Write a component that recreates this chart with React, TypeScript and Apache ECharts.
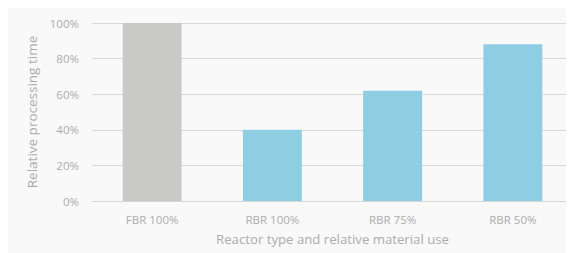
import React, { useEffect, useRef } from "react";
import * as echarts from "echarts";

const categories = ["FBR 100%", "RBR 100%", "RBR 75%", "RBR 50%"];
const values = [100, 40, 62, 88];
const barColors = ["#c9c9c5", "#8dcee3"];
const yTicks = [0, 20, 40, 60, 80, 100];

export default function App() {
  const ref = useRef<HTMLDivElement>(null);
  useEffect(() => {
    document.body.style.overflow = "hidden";
    const chart = echarts.init(ref.current!, null, { renderer: "svg" });
    const font = "'Open Sans', 'DejaVu Sans', sans-serif";
    chart.setOption({
      animation: false,
      backgroundColor: "#f9f9f9",
      textStyle: { fontFamily: font },
      grid: { left: 84, right: 1, top: 15, bottom: 52, containLabel: false },
      xAxis: {
        type: "category",
        data: categories,
        name: "Reactor type and relative material use",
        nameLocation: "middle",
        nameGap: 31,
        nameTextStyle: { color: "#acacac", fontSize: 13.2, fontFamily: font },
        axisLine: { lineStyle: { color: "#d6d6d6", width: 1 } },
        axisTick: { show: false },
        axisLabel: { color: "#acacac", fontSize: 11.5, margin: 12, fontFamily: font },
      },
      yAxis: {
        type: "value",
        min: yTicks[0],
        max: yTicks[yTicks.length - 1],
        interval: 20,
        name: "Relative processing time",
        nameLocation: "middle",
        nameGap: 49,
        nameTextStyle: { color: "#acacac", fontSize: 13.5, fontFamily: font },
        axisLine: { show: false },
        axisTick: { show: false },
        axisLabel: { color: "#acacac", fontSize: 11.5, margin: 13, formatter: "{value}%", fontFamily: font },
        splitLine: { lineStyle: { color: "#d9d9d9", width: 1 } },
      },
      series: [
        {
          type: "bar",
          barWidth: "49%",
          data: values.map((v, i) => ({
            value: v,
            itemStyle: { color: i === 0 ? barColors[0] : barColors[1] },
          })),
        },
      ],
    });
    return () => chart.dispose();
  }, []);
  return <div ref={ref} style={{ width: 566, height: 245 }} />;
}
